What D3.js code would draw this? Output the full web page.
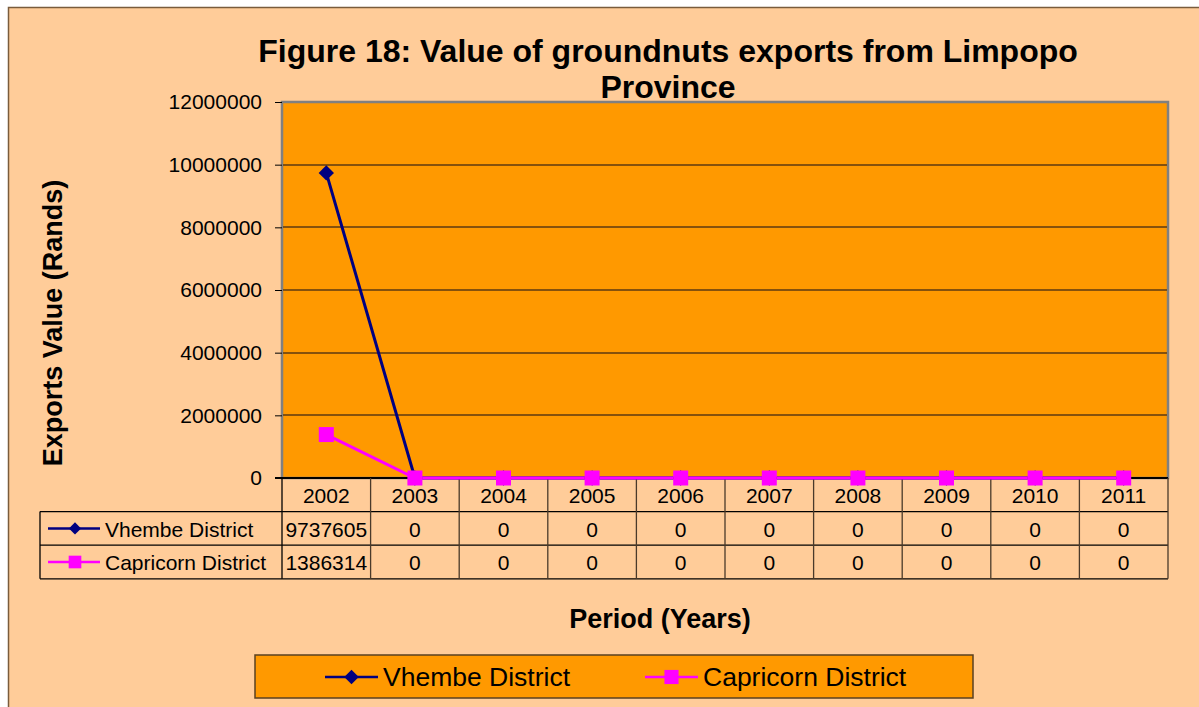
<!DOCTYPE html>
<html>
<head>
<meta charset="utf-8">
<script src="https://cdn.jsdelivr.net/npm/d3@7"></script>
<style>
body { margin: 0; background: #fff; }
svg text { font-family: Arial, "Liberation Sans", sans-serif; fill: #000; }
</style>
</head>
<body>
<script>
// Data
var years = ['2002', '2003', '2004', '2005', '2006', '2007', '2008', '2009', '2010', '2011'];
var vhembe = [9737605, 0, 0, 0, 0, 0, 0, 0, 0, 0];
var capricorn = [1386314, 0, 0, 0, 0, 0, 0, 0, 0, 0];
var yTicks = [0, 2000000, 4000000, 6000000, 8000000, 10000000, 12000000];

var series = [
	{ name: 'Vhembe District', values: vhembe, color: '#000080', symbol: d3.symbolDiamond2, size: 150, keySize: 95 },
	{ name: 'Capricorn District', values: capricorn, color: '#FF00FF', symbol: d3.symbolSquare, size: 225, keySize: 160 }
];

var W = 1199, H = 707;
var plot = { left: 282, top: 102, right: 1168, bottom: 478 };
var rowH = 33.6;

var svg = d3.select('body').append('svg').attr('width', W).attr('height', H);

// Chart background
svg.append('rect')
	.attr('x', 8).attr('y', 7).attr('width', W - 8).attr('height', H - 7)
	.attr('fill', '#FFCC99');
svg.append('path')
	.attr('d', 'M8.5,' + H + 'V7.5H' + W)
	.attr('fill', 'none').attr('stroke', '#7a5c3c').attr('stroke-width', 1.5);

// Scales
var x = d3.scaleBand().domain(years).range([plot.left, plot.right]);
var y = d3.scaleLinear().domain([0, 12000000]).range([plot.bottom, plot.top]);

// Plot area
svg.append('rect')
	.attr('x', plot.left).attr('y', plot.top)
	.attr('width', plot.right - plot.left).attr('height', plot.bottom - plot.top)
	.attr('fill', '#FF9900').attr('stroke', '#808080').attr('stroke-width', 2.5);

// Gridlines
svg.append('g')
	.selectAll('line')
	.data(yTicks.filter(d => d > 0 && d < 12000000))
	.enter().append('line')
	.attr('x1', plot.left + 1).attr('x2', plot.right - 1)
	.attr('y1', d => Math.round(y(d))).attr('y2', d => Math.round(y(d)))
	.attr('stroke', '#5c3a10').attr('stroke-width', 1.6);

// Y axis
var yAxis = svg.append('g')
	.attr('transform', 'translate(' + plot.left + ',0)')
	.call(d3.axisLeft(y).tickValues(yTicks).tickSize(7).tickPadding(13).tickFormat(d3.format('d')));
yAxis.select('.domain').remove();
yAxis.selectAll('.tick line').attr('stroke', '#000');
yAxis.selectAll('text').style('font-size', '21px').attr('fill', '#000');

// Y axis title
svg.append('text')
	.attr('transform', 'rotate(-90)')
	.attr('x', -323).attr('y', 62)
	.style('text-anchor', 'middle')
	.style('font-size', '27px').style('font-weight', 'bold')
	.text('Exports Value (Rands)');

// Data table
var table = svg.append('g');
var tableLeft = 40;
var rows = [plot.bottom, plot.bottom + rowH, plot.bottom + 2 * rowH, plot.bottom + 3 * rowH];

// horizontal lines
table.selectAll('line.h')
	.data([1, 2, 3])
	.enter().append('line')
	.attr('x1', tableLeft)
	.attr('x2', plot.right)
	.attr('y1', d => rows[d]).attr('y2', d => rows[d])
	.attr('stroke', '#000').attr('stroke-width', 1.3);
// x axis line
table.append('line')
	.attr('x1', plot.left - 7).attr('x2', plot.right)
	.attr('y1', rows[0]).attr('y2', rows[0])
	.attr('stroke', '#000').attr('stroke-width', 2);
// left edge of row labels
table.append('line')
	.attr('x1', tableLeft).attr('x2', tableLeft)
	.attr('y1', rows[1]).attr('y2', rows[3])
	.attr('stroke', '#000').attr('stroke-width', 1.3);
// vertical lines
table.selectAll('line.v')
	.data(years.concat(['end']))
	.enter().append('line')
	.attr('x1', d => d === 'end' ? plot.right : x(d))
	.attr('x2', d => d === 'end' ? plot.right : x(d))
	.attr('y1', rows[0]).attr('y2', rows[3])
	.attr('stroke', (d, i) => i === 0 ? '#000' : '#4a3a2a').attr('stroke-width', 1.3);

// category labels
table.selectAll('text.cat')
	.data(years)
	.enter().append('text')
	.attr('x', d => x(d) + x.bandwidth() / 2)
	.attr('y', rows[0] + 25)
	.style('text-anchor', 'middle').style('font-size', '21px')
	.text(d => d);

series.forEach((s, si) => {
	var ry = rows[si + 1];
	table.selectAll('text.v' + si)
		.data(s.values)
		.enter().append('text')
		.attr('x', (d, i) => x(years[i]) + x.bandwidth() / 2)
		.attr('y', ry + 25)
		.style('text-anchor', 'middle').style('font-size', '21px')
		.text(d => d);
	// legend key in table
	var ky = ry + rowH / 2;
	table.append('line')
		.attr('x1', 48).attr('x2', 100).attr('y1', ky).attr('y2', ky)
		.attr('stroke', s.color).attr('stroke-width', 2.5);
	table.append('path')
		.attr('transform', 'translate(75,' + ky + ')')
		.attr('d', d3.symbol().type(s.symbol).size(s.keySize))
		.attr('fill', s.color);
	table.append('text')
		.attr('x', 105).attr('y', ry + 25)
		.style('font-size', '21px')
		.text(s.name);
});

// Lines and markers (drawn over the axis line)
var line = d3.line()
	.x((d, i) => x(years[i]) + x.bandwidth() / 2)
	.y(d => y(d));

series.forEach(s => {
	svg.append('path')
		.datum(s.values)
		.attr('d', line)
		.attr('fill', 'none')
		.attr('stroke', s.color)
		.attr('stroke-width', 3);
});
series.forEach(s => {
	svg.append('g')
		.selectAll('path')
		.data(s.values)
		.enter().append('path')
		.attr('transform', (d, i) => 'translate(' + (x(years[i]) + x.bandwidth() / 2) + ',' + y(d) + ')')
		.attr('d', d3.symbol().type(s.symbol).size(s.size))
		.attr('fill', s.color);
});

// X axis title
svg.append('text')
	.attr('x', 660).attr('y', 628)
	.style('text-anchor', 'middle')
	.style('font-size', '27px').style('font-weight', 'bold')
	.text('Period (Years)');

// Title
var title = svg.append('text')
	.style('text-anchor', 'middle')
	.style('font-size', '32px').style('font-weight', 'bold');
title.append('tspan').attr('x', 668).attr('y', 62).text('Figure 18: Value of groundnuts exports from Limpopo');
title.append('tspan').attr('x', 668).attr('y', 98).text('Province');

// Legend
var legend = svg.append('g');
legend.append('rect')
	.attr('x', 255).attr('y', 655).attr('width', 718).attr('height', 43)
	.attr('fill', '#FF9900').attr('stroke', '#5a4020').attr('stroke-width', 1.5);
var legendX = [325, 645];
series.forEach((s, i) => {
	var lx = legendX[i], ly = 677;
	legend.append('line')
		.attr('x1', lx).attr('x2', lx + 53).attr('y1', ly).attr('y2', ly)
		.attr('stroke', s.color).attr('stroke-width', 2.5);
	legend.append('path')
		.attr('transform', 'translate(' + (lx + 26.5) + ',' + ly + ')')
		.attr('d', d3.symbol().type(s.symbol).size(s.keySize + 40))
		.attr('fill', s.color);
	legend.append('text')
		.attr('x', lx + 58).attr('y', 686)
		.style('font-size', '26.5px')
		.text(s.name);
});
</script>
</body>
</html>
